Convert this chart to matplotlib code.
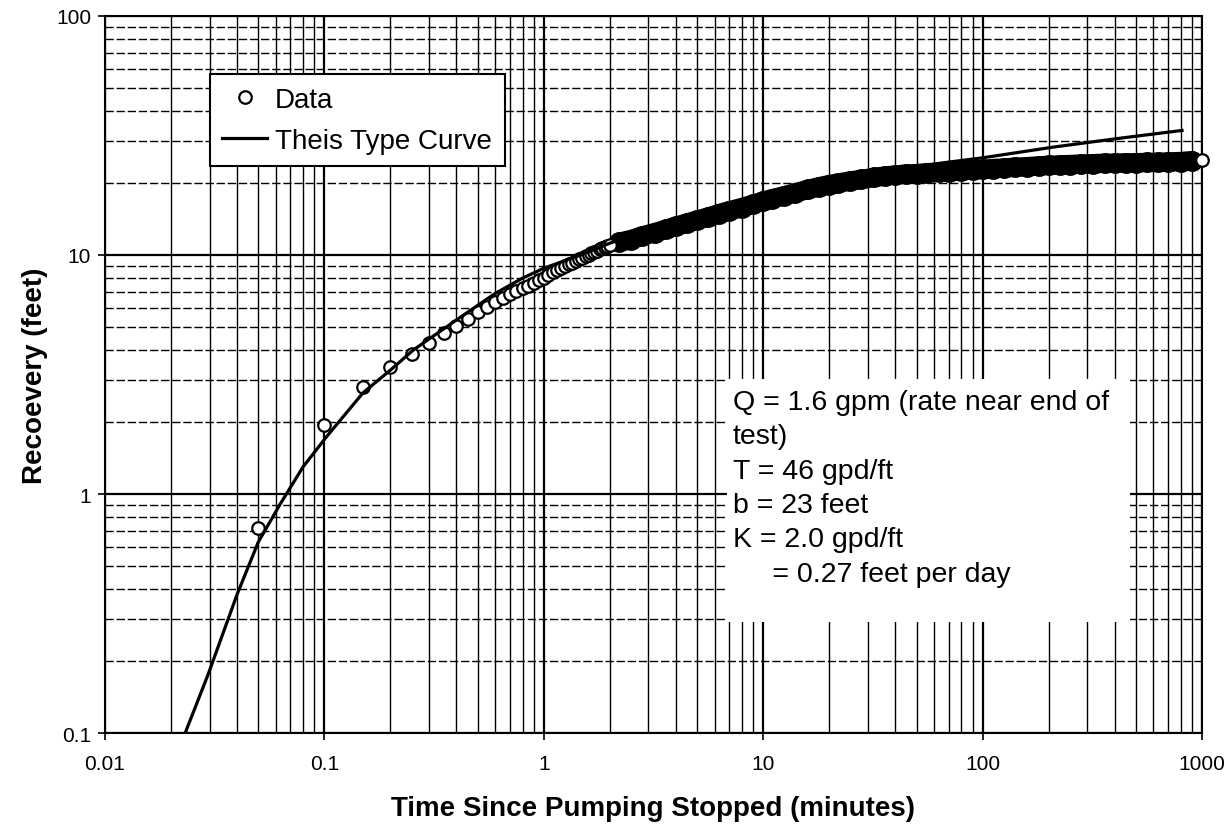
import matplotlib
matplotlib.use("Agg")
import matplotlib.pyplot as plt
from matplotlib.patches import Rectangle
from matplotlib.ticker import LogLocator, FuncFormatter, NullFormatter

plt.rcParams["font.family"] = ["Liberation Sans", "DejaVu Sans"]

# recovery readings, early part (logged every 0.05 minutes)
time_early = [0.05, 0.10, 0.15, 0.20, 0.25, 0.30, 0.35, 0.40, 0.45, 0.50,
              0.55, 0.60, 0.65, 0.70, 0.75, 0.80, 0.85, 0.90, 0.95, 1.00,
              1.05, 1.10, 1.15, 1.20, 1.25, 1.30, 1.35, 1.40, 1.45, 1.50,
              1.55, 1.60, 1.65, 1.70, 1.75, 1.80, 1.85, 1.90, 1.95, 2.00]
recovery_early = [0.72, 1.95, 2.80, 3.40, 3.85, 4.30, 4.70, 5.05, 5.40, 5.75,
                  6.05, 6.35, 6.60, 6.85, 7.05, 7.25, 7.45, 7.65, 7.85, 8.05,
                  8.25, 8.45, 8.62, 8.80, 8.97, 9.13, 9.29, 9.45, 9.60, 9.75,
                  9.89, 10.03, 10.17, 10.30, 10.43, 10.56, 10.68, 10.80, 10.92, 11.03]

# later readings, dense enough that the circles merge into a band
time_late = [2.2, 2.5, 2.8, 3.2, 3.6, 4.0, 4.5, 5.0, 5.6, 6.3, 7.0, 8.0, 9.0,
             10, 11, 12.5, 14, 16, 18, 20, 22, 25, 28, 32, 36, 40, 45, 50, 56,
             63, 70, 80, 90, 100, 112, 125, 140, 160, 180, 200, 225, 250, 280,
             320, 360, 400, 450, 500, 560, 630, 700, 800, 900]
recovery_late = [11.3, 11.6, 12.0, 12.4, 12.8, 13.2, 13.6, 14.0, 14.4, 14.9, 15.3,
                 15.8, 16.3, 16.8, 17.2, 17.7, 18.2, 18.8, 19.3, 19.7, 20.0, 20.4,
                 20.7, 21.1, 21.4, 21.6, 21.8, 21.9, 22.1, 22.2, 22.3, 22.5, 22.7,
                 22.8, 23.0, 23.1, 23.3, 23.4, 23.6, 23.7, 23.8, 23.9, 24.0, 24.1,
                 24.2, 24.2, 24.3, 24.3, 24.4, 24.4, 24.5, 24.6, 24.8]

# last reading at end of test
time_last = [1000]
recovery_last = [25.0]

# Theis type curve matched to the data
theis_time = [0.0232, 0.0296, 0.040, 0.05, 0.063, 0.08, 0.103, 0.15, 0.2, 0.254,
              0.3, 0.43, 0.6, 0.8, 1.0, 1.47, 2.0, 3.0, 4.0, 6.0, 10, 18.4, 30,
              66, 100, 206, 400, 811]
theis_recovery = [0.10, 0.177, 0.38, 0.63, 0.91, 1.3, 1.75, 2.65, 3.3, 4.0,
                  4.45, 5.6, 6.9, 8.0, 8.8, 10.0, 11.2, 12.8, 14.0, 15.6, 17.8,
                  20.0, 21.8, 24.3, 25.5, 28.2, 30.6, 33.2]

notes = ("Q = 1.6 gpm (rate near end of\ntest)\nT = 46 gpd/ft\nb = 23 feet\n"
         "K = 2.0 gpd/ft\n     = 0.27 feet per day")

fig = plt.figure(figsize=(12.25, 8.28), dpi=100)
ax = fig.add_axes([0.0857, 0.1135, 0.8955, 0.866])
ax.set_xscale("log")
ax.set_yscale("log")
ax.set_xlim(0.01, 1000)
ax.set_ylim(0.1, 100)

# chart-paper style grid
ax.set_axisbelow(True)
ax.grid(which="major", color="black", lw=1.6, ls="-")
ax.grid(which="minor", axis="x", color="black", lw=1.0, ls="-")
ax.grid(which="minor", axis="y", color="black", lw=1.0, ls=(0, (6, 2)))
ax.xaxis.set_minor_locator(LogLocator(base=10, subs=range(2, 10)))
ax.yaxis.set_minor_locator(LogLocator(base=10, subs=range(2, 10)))
ax.xaxis.set_minor_formatter(NullFormatter())
ax.yaxis.set_minor_formatter(NullFormatter())
fmt = FuncFormatter(lambda v, _: f"{v:g}")
ax.xaxis.set_major_formatter(fmt)
ax.yaxis.set_major_formatter(fmt)
ax.tick_params(which="major", direction="out", length=5, width=1.2, labelsize=15)
ax.tick_params(axis="x", pad=10)
ax.tick_params(axis="y", pad=5)
ax.tick_params(which="minor", length=0)
for s in ax.spines.values():
    s.set_linewidth(1.5)

# white panel behind the aquifer parameters
ax.add_patch(Rectangle((0.567, 0.155), 0.367, 0.339, transform=ax.transAxes,
                       facecolor="white", edgecolor="none", zorder=1))
ax.text(0.5725, 0.48, notes, transform=ax.transAxes, ha="left", va="top",
        fontsize=20.5, linespacing=1.42, zorder=1.5)

ax.plot(theis_time, theis_recovery, color="black", lw=2.3, zorder=3,
        label="Theis Type Curve")
# band of overlapping late readings
ax.plot(time_late, recovery_late, "-o", color="black", lw=14, ms=14,
        mfc="black", mec="black", solid_capstyle="round", zorder=2.5)
ax.plot(time_early, recovery_early, "o", ms=9, mfc="white", mec="black",
        mew=1.6, zorder=2.6, label="Data")
ax.plot(time_last, recovery_last, "o", ms=9, mfc="white", mec="black",
        mew=1.6, zorder=4, clip_on=False)

handles, labels = ax.get_legend_handles_labels()
leg = ax.legend(handles[::-1], labels[::-1], loc="upper left",
                bbox_to_anchor=(0.0957, 0.919), fontsize=20, frameon=True,
                fancybox=False, framealpha=1, edgecolor="black",
                borderpad=0.45, handlelength=1.6, handletextpad=0.3,
                labelspacing=0.55, borderaxespad=0)
leg.get_frame().set_linewidth(1.5)

ax.set_xlabel("Time Since Pumping Stopped (minutes)", fontsize=20,
              fontweight="bold", labelpad=16)
ax.set_ylabel("Recoevery (feet)", fontsize=20, fontweight="bold", labelpad=6)

fig.savefig("out.png", dpi=100)
